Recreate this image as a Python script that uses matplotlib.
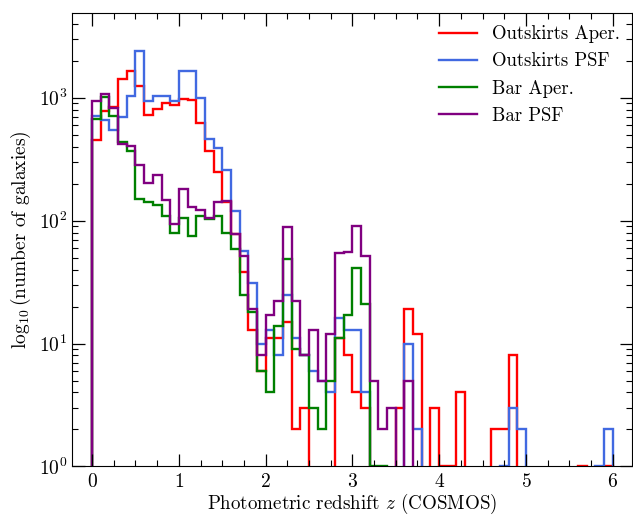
import numpy as np
import matplotlib
matplotlib.use("Agg")
import matplotlib.pyplot as plt
from matplotlib.ticker import MultipleLocator, LogLocator, NullFormatter

plt.rcParams["font.family"] = "serif"
plt.rcParams["font.serif"] = ["cmr10"]
plt.rcParams["mathtext.fontset"] = "cm"
plt.rcParams["axes.formatter.use_mathtext"] = True

# Photometric-redshift bins of width 0.1 from z = 0 to z = 6
bin_edges = np.round(np.arange(0, 6.01, 0.1), 2)

# Galaxy counts per bin
outskirts_aper = [
    457, 776, 836, 1429, 1660, 1253, 729, 815, 913, 879,
    984, 966, 628, 367, 250, 142, 78, 38, 13, 6,
    11, 11, 15, 2, 3, 0, 0, 0, 11, 8,
    4, 3, 0, 0, 0, 3, 19, 12, 0, 3,
    1, 1, 4, 0, 0, 0, 2, 2, 8, 0,
    0, 0, 0, 0, 0, 0, 1, 0, 0, 1,
]
outskirts_psf = [
    706, 664, 545, 699, 1040, 2378, 935, 1026, 1040, 935,
    1660, 1637, 996, 463, 392, 258, 120, 57, 31, 10,
    13, 8, 25, 11, 8, 6, 5, 4, 16, 13,
    13, 4, 0, 0, 0, 0, 10, 2, 0, 0,
    0, 0, 0, 0, 0, 0, 0, 1, 3, 2,
    0, 0, 0, 0, 0, 0, 0, 0, 1, 2,
]
bar_aper = [
    675, 1015, 706, 437, 367, 151, 142, 133, 109, 80,
    106, 75, 109, 103, 109, 80, 59, 25, 18, 6,
    4, 14, 49, 9, 8, 3, 2, 5, 11, 17,
    41, 21, 1, 1, 0, 0, 0, 0, 0, 0,
    0, 0, 0, 0, 0, 0, 0, 0, 0, 0,
    0, 0, 0, 0, 0, 0, 0, 0, 0, 0,
]
bar_psf = [
    935, 1080, 826, 424, 408, 281, 204, 233, 146, 94,
    180, 130, 122, 106, 142, 144, 78, 52, 19, 8,
    17, 22, 88, 22, 8, 13, 5, 12, 55, 56,
    90, 52, 5, 2, 3, 0, 5, 0, 0, 0,
    0, 0, 0, 0, 0, 0, 0, 0, 0, 0,
    0, 0, 0, 0, 0, 0, 0, 0, 0, 0,
]

series = [
    ("Outskirts Aper.", outskirts_aper, "red"),
    ("Outskirts PSF", outskirts_psf, "royalblue"),
    ("Bar Aper.", bar_aper, "green"),
    ("Bar PSF", bar_psf, "purple"),
]

fig = plt.figure(figsize=(6.33, 5.16), dpi=100)
ax = fig.add_axes([0.114, 0.096, 0.884, 0.879])

for label, counts, color in series:
    ax.stairs(counts, bin_edges, color=color, lw=1.7, label=label)

ax.set_yscale("log", nonpositive="clip")
ax.set_xlim(-0.23, 6.22)
ax.set_ylim(1, 4900)

ax.xaxis.set_major_locator(MultipleLocator(1))
ax.xaxis.set_minor_locator(MultipleLocator(0.25))
ax.yaxis.set_major_locator(LogLocator(base=10))
ax.yaxis.set_minor_locator(LogLocator(base=10, subs=np.arange(2, 10)))
ax.yaxis.set_minor_formatter(NullFormatter())

ax.tick_params(which="both", direction="in", top=True, right=True, labelsize=14)
ax.tick_params(which="major", length=9, width=0.9)
ax.tick_params(which="minor", length=4.5, width=0.8)
ax.tick_params(axis="x", which="major", pad=5)

ax.set_xlabel("Photometric redshift $z$ (COSMOS)", fontsize=13.7, labelpad=0.5)
ax.set_ylabel(r"$\log_{10}$(number of galaxies)", fontsize=14)

ax.legend(loc="upper right", frameon=False, fontsize=13.5, borderaxespad=0.25)

fig.savefig("out.png", dpi=100)
